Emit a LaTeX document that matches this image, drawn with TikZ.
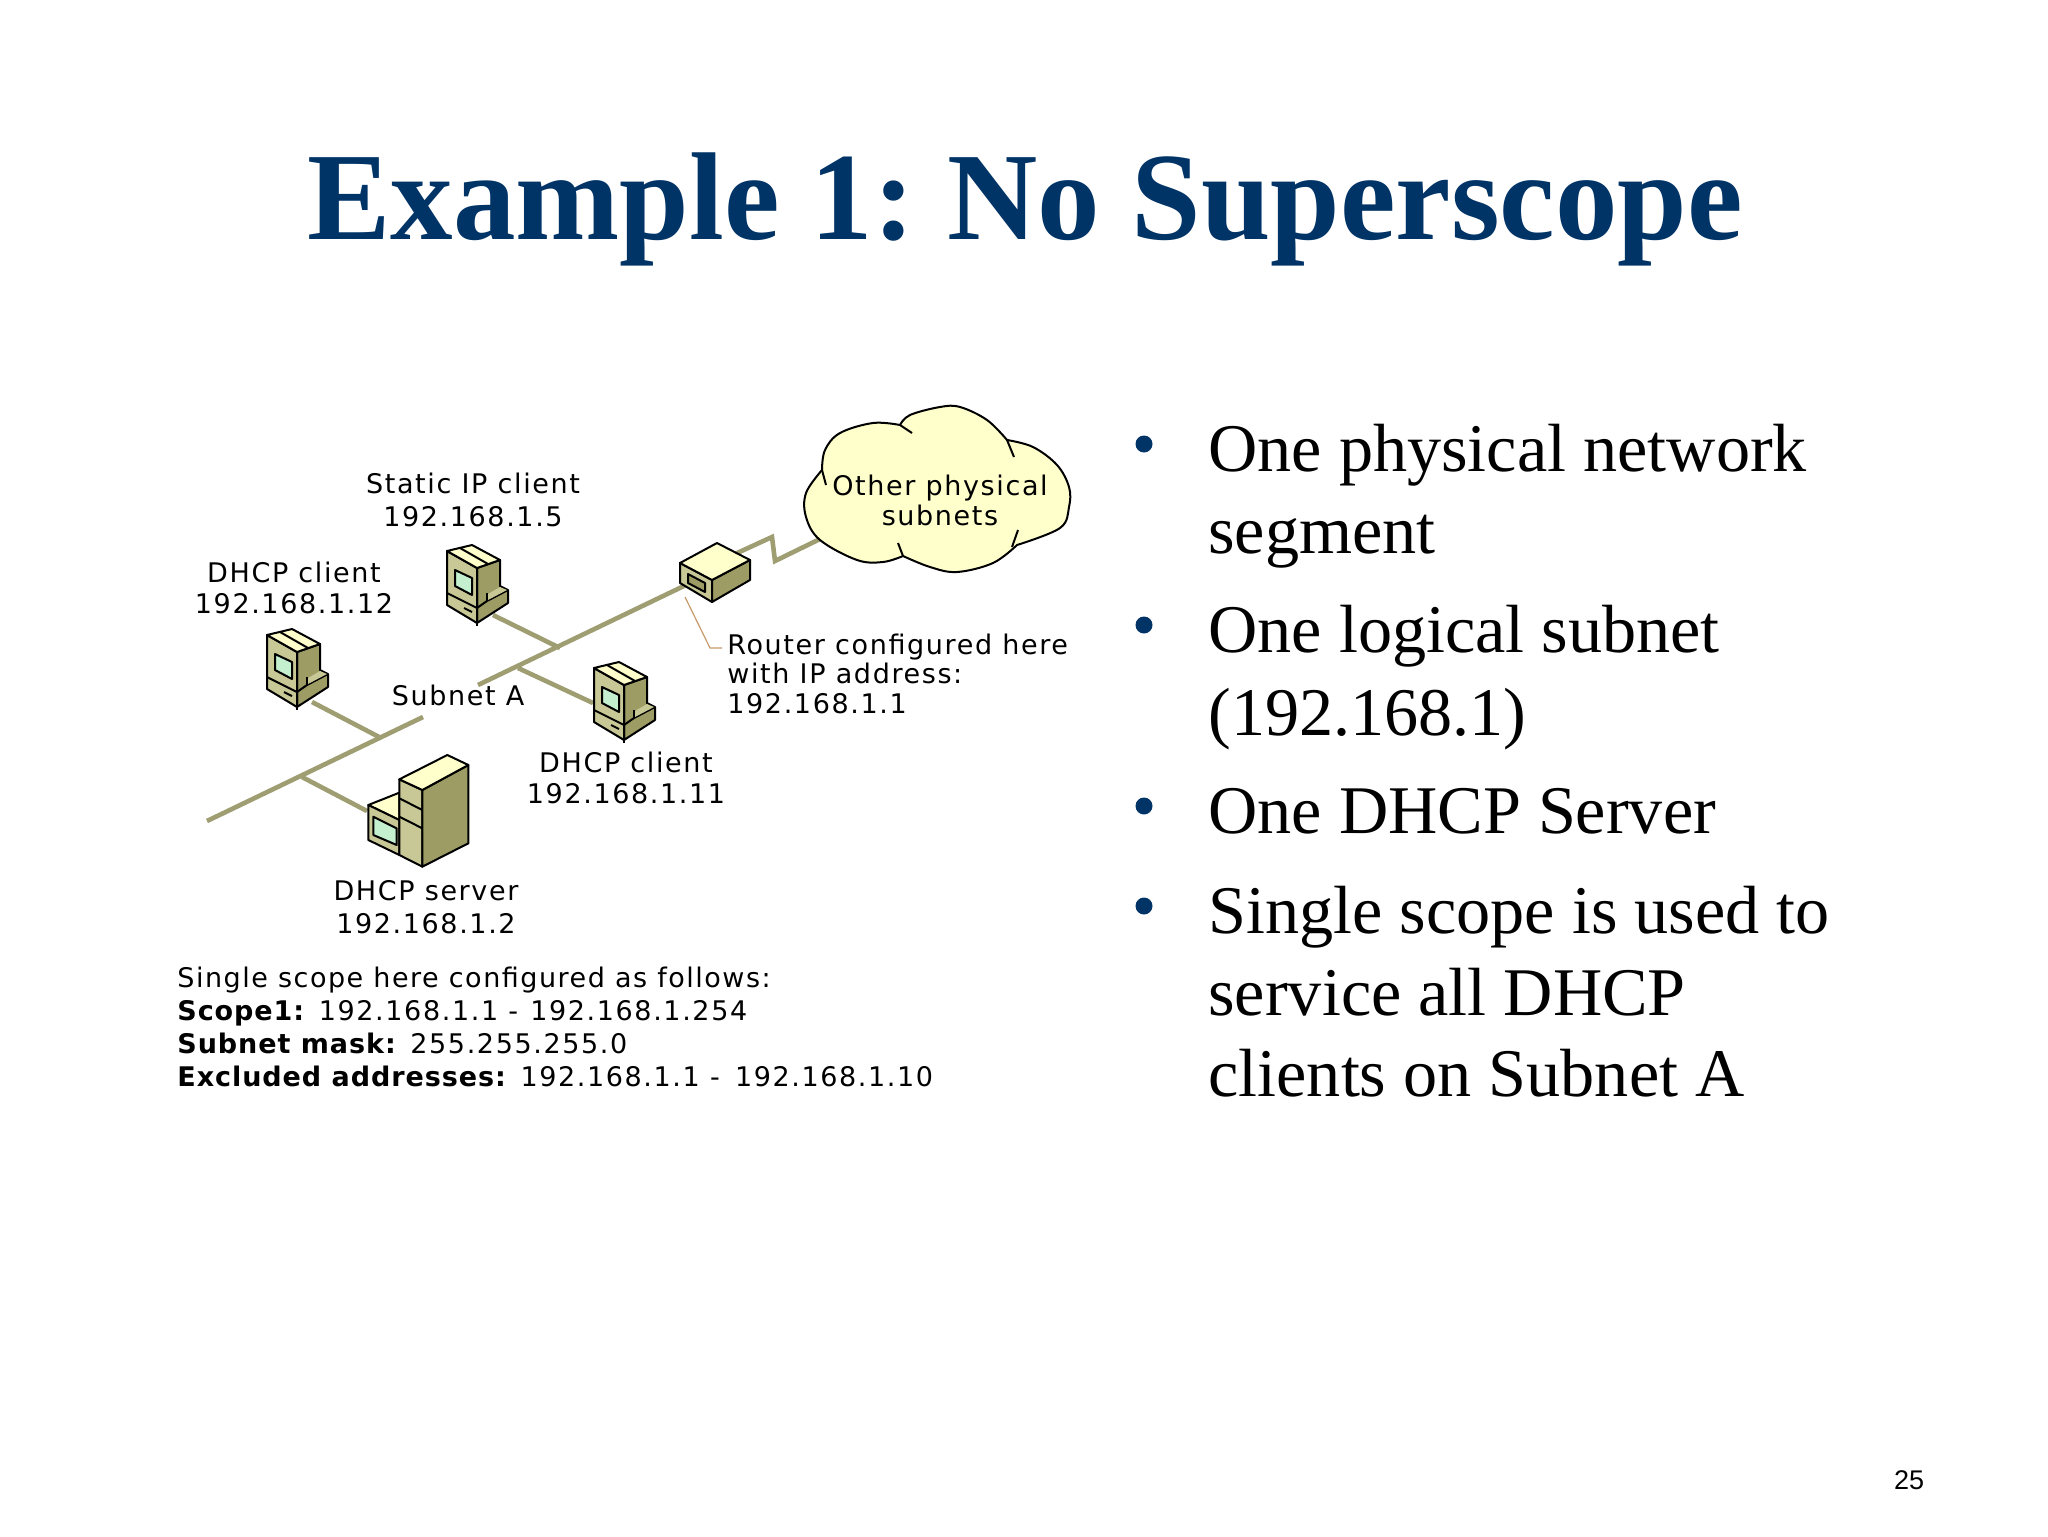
\documentclass[tikz,border=0pt]{standalone}
\usepackage{fontspec}
\setmainfont{Liberation Serif}
\newfontfamily\lsans{Liberation Sans}
\newfontfamily\djsans[LetterSpace=6,BoldFeatures={LetterSpace=3.5}]{DejaVu Sans}
\definecolor{navy}{HTML}{003366}
\definecolor{cable}{HTML}{9E9E72}
\definecolor{facelight}{HTML}{C8C896}
\definecolor{facedark}{HTML}{9C9C64}
\definecolor{facetop}{HTML}{FFFFCC}
\definecolor{screen}{HTML}{C4F0D0}
\definecolor{leader}{HTML}{C89A6A}
\tikzset{
  x=0.5pt,y=-0.5pt,
  cablestyle/.style={draw=cable,line width=2.3pt,line join=miter},
  edge/.style={draw=black,line width=1pt,line join=round},
  lighttxt/.style={inner sep=0pt,font=\djsans\fontsize{13.5}{#1}\selectfont,align=center},
  lighttxt/.default=16.5,
  lefttxt/.style={inner sep=0pt,font=\djsans\fontsize{13.5}{#1}\selectfont,align=left},
  lefttxt/.default=16.5,
  bullettxt/.style={inner sep=0pt,anchor=base west,font=\fontsize{34.1}{40}\selectfont,text=black},
  bulletdot/.style={circle,fill=navy,inner sep=0pt,minimum size=8.5pt},
  pics/pcicon/.style={code={
    \path[edge,fill=facedark] (0,-55) -- (23,-63) -- (23,-37) -- (31,-33) -- (31,-20) -- (0,0) -- cycle;
    \path[edge,fill=facelight] (-30,-72) -- (0,-55) -- (0,0) -- (-30,-18) -- cycle;
    \path[edge,fill=facetop] (-30,-72) -- (-5,-78) -- (23,-63) -- (0,-55) -- cycle;
    \draw[edge] (-17,-75) -- (11,-59);
    \path[edge,fill=screen] (-22,-53) -- (-5,-45) -- (-5,-28) -- (-22,-37) -- cycle;
    \draw[edge] (-30,-30) -- (0,-15);
    \draw[edge] (-13,-15) -- (-5,-11);
    \draw[edge] (0,-15) -- (10,-22) -- (31,-33);
    \draw[edge] (10,-22) -- (10,-30);
    \path[fill=facelight] (11,-29) -- (23,-36) -- (30,-33) -- (11,-23) -- cycle;
    \draw[edge] (0,0) -- (0,3);
  }},
  pics/servericon/.style={code={
    \path[edge,fill=facetop] (625,195) -- (718,158) -- (718,240) -- cycle;
    \path[edge,fill=facelight] (625,195) -- (718,240) -- (718,345) -- (625,300) -- cycle;
    \path[edge,fill=screen] (640,230) -- (710,265) -- (710,315) -- (640,285) -- cycle;
    \path[edge,fill=facelight] (718,118) -- (787,150) -- (787,380) -- (718,345) -- cycle;
    \path[edge,fill=facedark] (787,150) -- (925,75) -- (925,310) -- (787,380) -- cycle;
    \path[edge,fill=facetop] (718,118) -- (862,45) -- (925,75) -- (787,150) -- cycle;
    \draw[edge] (718,175) -- (787,210);
    \draw[edge] (718,230) -- (787,265);
  }}
}
\begin{document}
\begin{tikzpicture}
\useasboundingbox[fill=white] (0,0) rectangle (2048,1536);

% Title
\node[inner sep=0pt,anchor=base,text=navy,font=\fontsize{62.5}{70}\selectfont\bfseries] (title) at (1025,239) {Example 1:\kern-4.5pt{} No Superscope};

% Cable coordinates
\coordinate (bbA) at (207,821);
\coordinate (bbB) at (423,717);
\coordinate (bbC) at (478,685);
\coordinate (rtrIn) at (686,585);
\coordinate (jServer) at (302,777);
\coordinate (jClient12) at (381,738);
\coordinate (jClient11) at (518,668);
\coordinate (jStatic) at (560,648);
\coordinate (wan1) at (735,554);
\coordinate (wan2) at (772,537);
\coordinate (wan3) at (775,561);
\coordinate (wan4) at (822,538);
\coordinate (pStatic) at (493,615);
\coordinate (pClient12) at (312,702);
\coordinate (pClient11) at (593,703);
\coordinate (pServer) at (367,811);

% Cables
\draw[cablestyle] (bbA) -- (bbB);
\draw[cablestyle] (bbC) -- (rtrIn);
\draw[cablestyle] (pStatic) -- (jStatic);
\draw[cablestyle] (pClient12) -- (jClient12);
\draw[cablestyle] (jClient11) -- (pClient11);
\draw[cablestyle] (jServer) -- (pServer);
\draw[cablestyle] (wan1) -- (wan2) -- (wan3) -- (wan4);

% Cloud
\path[edge,fill=facetop]
  plot[smooth,tension=0.6] coordinates {(822,470) (825,450) (840,433) (873,423) (900,425)}
  -- plot[smooth,tension=0.6] coordinates {(900,425) (910,415) (940,407) (960,407) (987,420) (1007,440)}
  -- plot[smooth,tension=0.6] coordinates {(1007,440) (1033,447) (1057,465) (1069,487) (1069,507) (1060,528) (1017,545)}
  -- plot[smooth,tension=0.6] coordinates {(1017,545) (993,563) (957,572) (930,567) (903,556)}
  -- plot[smooth,tension=0.6] coordinates {(903,556) (883,562) (857,560) (820,540) (806,517) (806,493) (822,470)}
  -- cycle;
\draw[edge] (822,470) -- (826,485);
\draw[edge] (900,425) -- (912,433);
\draw[edge] (1007,440) -- (1014,457);
\draw[edge] (1018,530) -- (1012,547);
\draw[edge] (898,543) -- (903,556);

% Devices
\pic (pcStatic) at (477,623) {pcicon};
\pic (pcTwelve) at (297,707) {pcicon};
\pic (pcEleven) at (624,740) {pcicon};
\begin{scope}[shift={(160,740)},x=0.16667pt,y=-0.16667pt]
\pic (srv) at (0,0) {servericon};
\end{scope}

% Router
\path[edge,fill=facelight] (680,563) -- (712,580) -- (712,602) -- (680,583) -- cycle;
\path[edge,fill=facedark] (712,580) -- (750,560) -- (750,580) -- (712,602) -- cycle;
\path[edge,fill=facetop] (680,563) -- (717,543) -- (750,560) -- (712,580) -- cycle;
\path[edge,fill=facedark] (688,574) -- (705,583) -- (705,592) -- (688,583) -- cycle;

% Leader
\coordinate (ldA) at (685,597);
\coordinate (ldB) at (710,648);
\coordinate (ldC) at (722,648);
\draw[leader,line width=0.6pt] (ldA) -- (ldB) -- (ldC);

% Labels (anchored at the baseline of their last line)
\node[lighttxt,anchor=base] (lblStatic) at (473,526) {Static IP client\\192.168.1.5};
\node[lighttxt=15.5,anchor=base] (lblTwelve) at (294,613) {DHCP client\\192.168.1.12};
\node[lighttxt,anchor=base] (lblSubnet) at (458,705) {Subnet A};
\node[lighttxt=15.5,anchor=base] (lblEleven) at (626,803) {DHCP client\\192.168.1.11};
\node[lighttxt,anchor=base] (lblServer) at (426,933) {DHCP server\\192.168.1.2};
\node[lighttxt=15,anchor=base] (lblCloud) at (940,525) {Other physical\\subnets};
\node[lefttxt=14.75,anchor=base west] (lblRouter) at (727,713) {Router configured here\\with IP address:\\192.168.1.1};
\node[lefttxt,anchor=base west] (lblSingle) at (177,1086) {{\addfontfeature{LetterSpace=5.6}Single scope here configured as follows:}\\\textbf{Scope1:} 192.168.1.1 -\kern1pt{} 192.168.1.254\\\textbf{Subnet mask:} 255.255.255.0\\\textbf{Excluded addresses:} 192.168.1.1 -\kern2.5pt{} 192.168.1.10};

% Bullets
\node[bulletdot] (d1) at (1144,444) {};
\node[bulletdot] (d2) at (1144,625) {};
\node[bulletdot] (d3) at (1144,806) {};
\node[bulletdot] (d4) at (1144,906) {};
\node[bullettxt] (b1a) at (1208,471) {One physical network};
\node[bullettxt] (b1b) at (1208,553) {segment};
\node[bullettxt] (b2a) at (1208,652) {One logical subnet};
\node[bullettxt] (b2b) at (1208,735) {(192.168.1)};
\node[bullettxt] (b3) at (1208,833) {One DHCP Server};
\node[bullettxt] (b4a) at (1208,933) {Single scope is used to};
\node[bullettxt] (b4b) at (1208,1015) {service all DHCP};
\node[bullettxt] (b4c) at (1208,1096) {clients on Subnet A};

% Page number
\node[inner sep=0pt,anchor=base,font=\lsans\fontsize{13.5}{16}\selectfont] (page) at (1909,1489) {25};
\end{tikzpicture}
\end{document}
